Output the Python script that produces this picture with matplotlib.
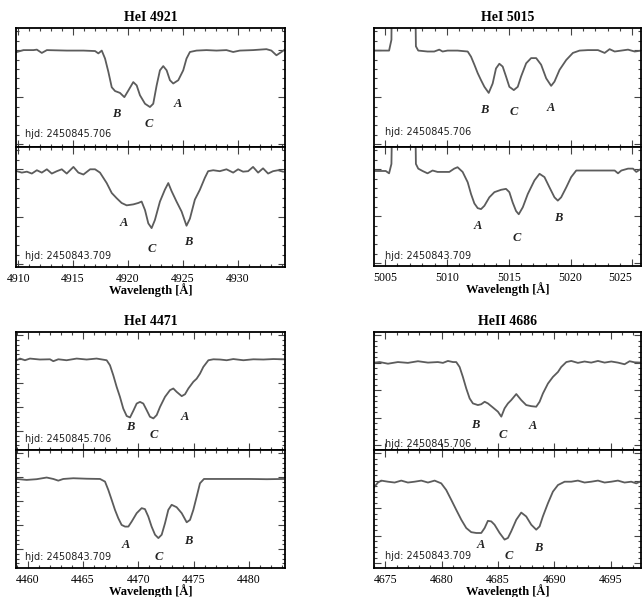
import numpy as np
import matplotlib
matplotlib.use("Agg")
import matplotlib.pyplot as plt
from matplotlib.ticker import MultipleLocator, NullFormatter

# ---------------------------------------------------------------
# Spectra (wavelength in Angstrom, normalised flux)
# ---------------------------------------------------------------

# HeI 4921
wl_4921_a = [4909.88, 4910.48, 4911.39, 4911.70, 4912.15, 4912.61, 4914.42, 4915.94,
             4917.00, 4917.30, 4917.61, 4917.91, 4918.21, 4918.52, 4918.82, 4919.27,
             4919.67, 4920.03, 4920.48, 4920.79, 4921.09, 4921.55, 4922.00, 4922.30,
             4922.61, 4922.91, 4923.21, 4923.52, 4923.82, 4924.12, 4924.58, 4925.03,
             4925.33, 4925.64, 4926.24, 4927.15, 4928.06, 4928.97, 4929.58, 4930.18,
             4931.39, 4932.61, 4933.06, 4933.52, 4933.97, 4934.27]
fl_4921_a = [0.996, 1.000, 1.000, 1.001, 0.994, 1.000, 0.999, 0.999,
             0.998, 0.993, 0.999, 0.982, 0.954, 0.921, 0.913, 0.909,
             0.900, 0.914, 0.932, 0.925, 0.904, 0.886, 0.879, 0.886,
             0.925, 0.957, 0.966, 0.957, 0.936, 0.929, 0.936, 0.957,
             0.982, 0.996, 0.999, 1.000, 0.999, 1.000, 0.996, 0.999,
             1.000, 1.002, 0.999, 0.989, 0.996, 1.001]
wl_4921_b = [4909.88, 4910.33, 4910.79, 4911.24, 4911.70, 4912.15, 4912.61, 4913.06,
             4913.52, 4913.97, 4914.42, 4915.03, 4915.48, 4915.94, 4916.55, 4917.00,
             4917.45, 4918.06, 4918.52, 4918.97, 4919.42, 4919.88, 4920.48, 4920.94,
             4921.24, 4921.55, 4921.85, 4922.15, 4922.45, 4922.91, 4923.36, 4923.67,
             4923.97, 4924.42, 4924.88, 4925.33, 4925.64, 4926.09, 4926.55, 4927.00,
             4927.30, 4927.76, 4928.36, 4928.97, 4929.58, 4930.03, 4930.48, 4930.94,
             4931.39, 4931.85, 4932.30, 4932.76, 4933.21, 4933.67, 4934.12]
fl_4921_b = [0.996, 0.993, 0.995, 0.991, 0.998, 0.993, 1.000, 0.991,
             0.996, 1.000, 0.991, 1.005, 0.993, 0.989, 1.000, 1.000,
             0.993, 0.971, 0.950, 0.939, 0.929, 0.924, 0.926, 0.929,
             0.932, 0.914, 0.886, 0.876, 0.893, 0.932, 0.957, 0.971,
             0.954, 0.932, 0.911, 0.881, 0.896, 0.936, 0.957, 0.982,
             0.996, 0.998, 0.996, 1.000, 0.993, 1.000, 0.995, 0.996,
             1.005, 0.993, 1.002, 0.991, 0.996, 0.998, 0.995]

# HeI 5015 (the [OIII] 5007 emission runs off the top of the box)
wl_5015_a = [5004.11, 5005.32, 5005.51, 5005.59, 5007.35, 5007.49, 5007.68, 5008.43,
             5008.97, 5009.38, 5009.65, 5010.05, 5010.86, 5011.68, 5011.95, 5012.22,
             5012.49, 5012.76, 5013.03, 5013.38, 5013.70, 5013.97, 5014.24, 5014.51,
             5014.78, 5015.05, 5015.41, 5015.73, 5016.00, 5016.41, 5016.81, 5017.22,
             5017.62, 5018.03, 5018.43, 5018.70, 5019.11, 5019.65, 5020.19, 5020.73,
             5021.41, 5022.22, 5022.76, 5023.16, 5023.57, 5024.11, 5024.65, 5025.19,
             5025.73]
fl_5015_a = [0.999, 0.999, 1.022, 1.300, 1.300, 1.008, 0.999, 0.997,
             0.997, 1.001, 0.997, 0.999, 0.999, 0.997, 0.986, 0.969,
             0.951, 0.936, 0.922, 0.909, 0.929, 0.961, 0.971, 0.965,
             0.944, 0.922, 0.915, 0.922, 0.944, 0.972, 0.983, 0.983,
             0.969, 0.940, 0.924, 0.933, 0.958, 0.979, 0.994, 0.999,
             1.000, 1.000, 0.994, 1.002, 0.997, 0.999, 1.001, 0.997,
             0.999]
wl_5015_b = [5004.11, 5005.05, 5005.32, 5005.51, 5005.68, 5007.35, 5007.49, 5007.68,
             5008.03, 5008.43, 5008.84, 5009.24, 5009.78, 5010.19, 5010.59, 5010.86,
             5011.27, 5011.68, 5011.95, 5012.22, 5012.49, 5012.76, 5013.03, 5013.43,
             5013.84, 5014.38, 5014.78, 5015.05, 5015.32, 5015.59, 5015.81, 5016.14,
             5016.54, 5017.08, 5017.49, 5017.89, 5018.30, 5018.70, 5018.97, 5019.24,
             5019.65, 5020.05, 5020.46, 5021.14, 5021.95, 5022.76, 5023.57, 5023.84,
             5024.11, 5024.65, 5025.05, 5025.32, 5025.73]
fl_5015_b = [0.996, 0.996, 0.991, 1.011, 1.300, 1.300, 1.011, 1.001,
             0.996, 0.991, 0.997, 0.994, 0.994, 0.994, 1.001, 1.004,
             0.994, 0.972, 0.947, 0.927, 0.917, 0.915, 0.922, 0.940,
             0.951, 0.956, 0.958, 0.951, 0.929, 0.911, 0.904, 0.919,
             0.947, 0.976, 0.990, 0.983, 0.961, 0.940, 0.933, 0.940,
             0.961, 0.983, 0.997, 0.997, 0.997, 0.997, 0.997, 0.991,
             0.997, 1.001, 1.001, 0.994, 1.001]

# HeI 4471
wl_4471_a = [4459.01, 4459.31, 4459.76, 4460.21, 4461.11, 4462.02, 4462.32, 4462.77,
             4463.52, 4464.43, 4465.33, 4466.23, 4467.14, 4467.44, 4467.74, 4468.04,
             4468.34, 4468.64, 4468.95, 4469.25, 4469.55, 4469.85, 4470.15, 4470.45,
             4470.75, 4471.05, 4471.36, 4471.66, 4471.96, 4472.41, 4472.86, 4473.16,
             4473.46, 4473.92, 4474.22, 4474.52, 4474.97, 4475.27, 4475.57, 4475.87,
             4476.33, 4476.78, 4477.38, 4477.98, 4478.58, 4479.49, 4480.39, 4481.30,
             4482.20, 4483.10]
fl_4471_a = [0.996, 1.003, 0.996, 1.003, 0.999, 1.000, 0.992, 1.000,
             0.996, 1.003, 0.999, 1.003, 0.996, 0.975, 0.933, 0.885,
             0.843, 0.794, 0.763, 0.757, 0.785, 0.815, 0.822, 0.815,
             0.788, 0.760, 0.753, 0.767, 0.801, 0.843, 0.871, 0.878,
             0.864, 0.846, 0.854, 0.878, 0.906, 0.919, 0.940, 0.968,
             0.996, 1.000, 0.999, 0.996, 1.001, 0.996, 1.000, 0.999,
             1.001, 1.000]
wl_4471_b = [4459.01, 4459.91, 4460.81, 4461.72, 4462.32, 4462.77, 4463.22, 4464.13,
             4465.33, 4466.54, 4466.99, 4467.29, 4467.59, 4467.89, 4468.19, 4468.49,
             4468.80, 4469.10, 4469.40, 4469.85, 4470.30, 4470.60, 4470.90, 4471.20,
             4471.51, 4471.81, 4472.11, 4472.41, 4472.71, 4473.01, 4473.46, 4473.92,
             4474.37, 4474.67, 4474.97, 4475.27, 4475.57, 4475.93, 4477.08, 4478.58,
             4480.09, 4481.60, 4483.10]
fl_4471_b = [0.993, 0.989, 0.992, 0.999, 0.993, 0.986, 0.993, 0.996,
             0.994, 0.993, 0.982, 0.947, 0.906, 0.864, 0.829, 0.801,
             0.794, 0.794, 0.815, 0.850, 0.871, 0.867, 0.836, 0.794,
             0.760, 0.746, 0.760, 0.808, 0.864, 0.885, 0.875, 0.850,
             0.812, 0.822, 0.864, 0.919, 0.975, 0.993, 0.993, 0.993,
             0.993, 0.992, 0.993]

# HeII 4686
wl_4686_a = [4674.05, 4674.50, 4675.24, 4676.12, 4677.01, 4677.90, 4678.79, 4679.67,
             4680.12, 4680.56, 4681.01, 4681.30, 4681.60, 4681.89, 4682.19, 4682.49,
             4682.78, 4683.22, 4683.52, 4683.82, 4684.11, 4684.56, 4685.00, 4685.30,
             4685.59, 4685.89, 4686.18, 4686.63, 4687.07, 4687.51, 4687.96, 4688.40,
             4688.70, 4688.99, 4689.44, 4689.88, 4690.33, 4690.62, 4691.07, 4691.51,
             4692.10, 4692.69, 4693.28, 4693.88, 4694.47, 4695.06, 4695.65, 4696.24,
             4696.69, 4697.13, 4697.72]
fl_4686_a = [1.000, 1.002, 0.996, 1.002, 0.999, 1.005, 1.000, 1.002,
             0.999, 1.006, 1.002, 1.002, 0.984, 0.948, 0.906, 0.870,
             0.852, 0.846, 0.849, 0.858, 0.852, 0.837, 0.822, 0.804,
             0.834, 0.852, 0.864, 0.886, 0.864, 0.846, 0.842, 0.840,
             0.858, 0.888, 0.924, 0.948, 0.966, 0.984, 1.002, 1.006,
             0.999, 1.004, 1.000, 1.006, 1.000, 1.004, 1.000, 0.994,
             1.005, 1.001, 1.000]
wl_4686_b = [4674.05, 4674.35, 4674.64, 4675.24, 4675.83, 4676.42, 4677.01, 4677.60,
             4678.20, 4678.79, 4679.38, 4679.97, 4680.41, 4680.86, 4681.30, 4681.75,
             4682.19, 4682.63, 4683.08, 4683.52, 4683.82, 4684.11, 4684.41, 4684.70,
             4685.15, 4685.59, 4685.89, 4686.18, 4686.63, 4687.07, 4687.51, 4687.96,
             4688.40, 4688.70, 4688.99, 4689.44, 4689.88, 4690.33, 4690.92, 4691.51,
             4692.10, 4692.69, 4693.28, 4693.88, 4694.47, 4695.06, 4695.65, 4696.24,
             4696.83, 4697.28, 4697.72]
fl_4686_b = [0.978, 0.993, 1.000, 0.996, 0.993, 1.000, 0.993, 0.996,
             1.000, 0.993, 1.000, 0.990, 0.966, 0.930, 0.894, 0.858,
             0.828, 0.813, 0.810, 0.810, 0.828, 0.854, 0.852, 0.840,
             0.810, 0.786, 0.792, 0.816, 0.858, 0.884, 0.870, 0.840,
             0.822, 0.834, 0.870, 0.918, 0.960, 0.984, 0.996, 0.996,
             1.000, 0.993, 0.996, 1.000, 0.993, 0.996, 1.000, 0.993,
             0.996, 0.990, 0.998]

# component labels (letter, wavelength, flux) for upper / lower spectrum
lab_4921_a = [("B", 4918.97, 0.864), ("C", 4921.85, 0.843), ("A", 4924.58, 0.886)]
lab_4921_b = [("A", 4919.58, 0.886), ("C", 4922.15, 0.832), ("B", 4925.48, 0.846)]
lab_5015_a = [("B", 5013.03, 0.872), ("C", 5015.41, 0.869), ("A", 5018.43, 0.876)]
lab_5015_b = [("A", 5012.49, 0.879), ("C", 5015.68, 0.854), ("B", 5019.03, 0.897)]
lab_4471_a = [("B", 4469.31, 0.718), ("C", 4471.36, 0.683), ("A", 4474.22, 0.760)]
lab_4471_b = [("A", 4468.89, 0.718), ("C", 4471.81, 0.669), ("B", 4474.52, 0.732)]
lab_4686_a = [("B", 4682.99, 0.773), ("C", 4685.44, 0.737), ("A", 4688.11, 0.769)]
lab_4686_b = [("A", 4683.46, 0.767), ("C", 4685.95, 0.725), ("B", 4688.61, 0.755)]

hjd_a = "hjd: 2450845.706"
hjd_b = "hjd: 2450843.709"

# ---------------------------------------------------------------
# Figure
# ---------------------------------------------------------------
W, H = 642, 597
fig = plt.figure(figsize=(W / 100, H / 100), dpi=100)
fig.patch.set_facecolor("white")

SERIF = "Liberation Serif"
LINE = "#5c5c5c"


def box(px_left, px_right, px_top, px_bot):
    return [px_left / W, 1 - px_bot / H, (px_right - px_left) / W, (px_bot - px_top) / H]


def style(ax, ymaj):
    for s in ax.spines.values():
        s.set_linewidth(1.3)
    ax.xaxis.set_major_locator(MultipleLocator(5))
    ax.xaxis.set_minor_locator(MultipleLocator(1))
    ax.yaxis.set_major_locator(MultipleLocator(ymaj))
    ax.yaxis.set_minor_locator(MultipleLocator(ymaj / 5))
    ax.tick_params(which="both", direction="in", top=True, right=True,
                   labelleft=False, width=0.8, color="#444444")
    ax.tick_params(which="major", length=5)
    ax.tick_params(which="minor", length=2.5)


def panel(xpix, ypix, title, xlim, ylim, ymaj, spec_a, spec_b, lab_a, lab_b, hjd_pos):
    x0, x1 = xpix
    t, m, b = ypix
    ax_t = fig.add_axes(box(x0, x1, t, m))
    ax_b = fig.add_axes(box(x0, x1, m, b))
    for ax, (wl, fl), labs, hjd, hp in ((ax_t, spec_a, lab_a, hjd_a, hjd_pos[0]),
                                         (ax_b, spec_b, lab_b, hjd_b, hjd_pos[1])):
        ax.plot(wl, fl, color=LINE, lw=1.3)
        ax.set_xlim(*xlim)
        ax.set_ylim(*ylim)
        style(ax, ymaj)
        for letter, lx, ly in labs:
            ax.text(lx, ly, letter, ha="center", va="center", fontsize=9,
                    family=SERIF, style="italic", weight="bold", color="#222222")
        ax.text(hp[0], hp[1], hjd, ha="left", va="center", fontsize=7,
                family="DejaVu Sans", color="#222222")
    ax_t.xaxis.set_major_formatter(NullFormatter())
    ax_t.set_title(title, family=SERIF, weight="bold", fontsize=10, pad=5)
    ax_b.tick_params(axis="x", which="major", labelsize=8.5, pad=4)
    ax_b.set_xlabel("Wavelength [Å]", family=SERIF, weight="bold",
                    fontsize=9, labelpad=-1)
    fig.canvas.draw()
    labels = ax_b.get_xticklabels()
    for lbl in labels:
        lbl.set_family(SERIF)
    # keep the last tick label inside the figure edge
    for lbl in labels:
        if lbl.get_position()[0] >= xlim[1] - 1:
            lbl.set_horizontalalignment("right")
    return ax_t, ax_b


panel((16, 285), (28, 147, 267), "HeI 4921", (4909.8, 4934.3), (0.794, 1.047), 0.1,
      (wl_4921_a, fl_4921_a), (wl_4921_b, fl_4921_b), lab_4921_a, lab_4921_b,
      ((4910.6, 0.821), (4910.6, 0.818)))

panel((374, 641), (28, 147, 266), "HeI 5015", (5004.1, 5025.7), (0.794, 1.047), 0.1,
      (wl_5015_a, fl_5015_a), (wl_5015_b, fl_5015_b), lab_5015_a, lab_5015_b,
      ((5005.0, 0.826), (5005.0, 0.815)))

panel((16, 285), (332, 450, 568), "HeI 4471", (4458.95, 4483.25), (0.621, 1.114), 0.1,
      (wl_4471_a, fl_4471_a), (wl_4471_b, fl_4471_b), lab_4471_a, lab_4471_b,
      ((4459.8, 0.669), (4459.8, 0.669)))

panel((374, 641), (332, 450, 568), "HeII 4686", (4674.0, 4697.7), (0.683, 1.111), 0.1,
      (wl_4686_a, fl_4686_a), (wl_4686_b, fl_4686_b), lab_4686_a, lab_4686_b,
      ((4675.0, 0.706), (4675.0, 0.728)))

fig.savefig("out.png", dpi=100, facecolor="white")
